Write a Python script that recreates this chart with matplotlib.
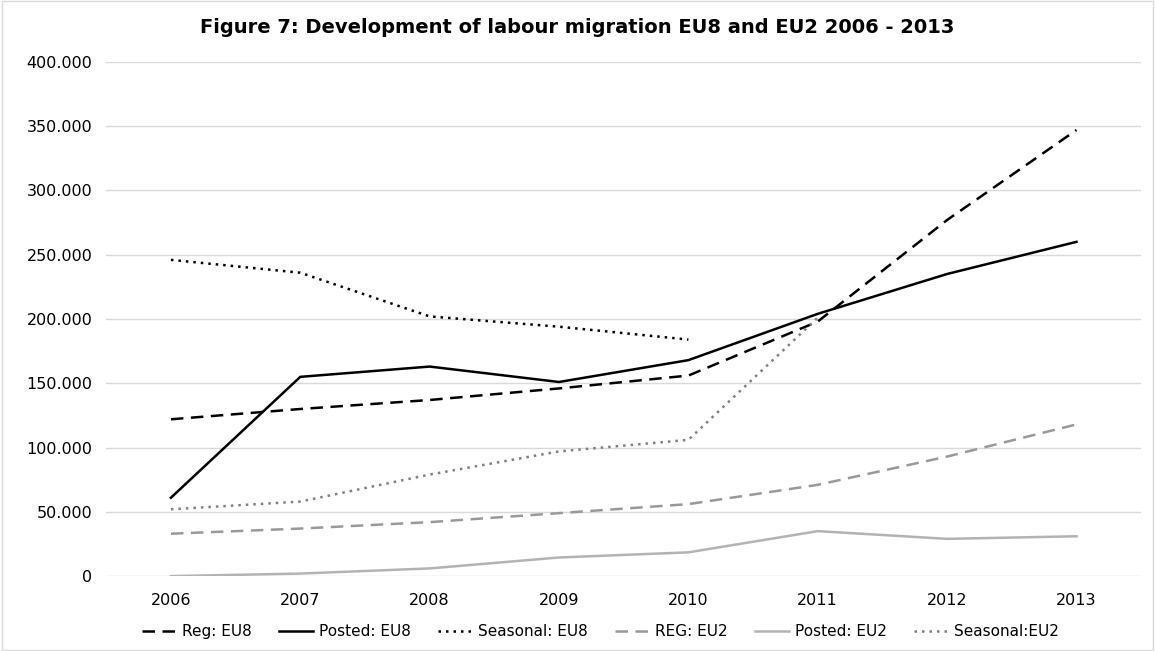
import matplotlib
matplotlib.use('Agg')
import matplotlib.pyplot as plt
import matplotlib.patches as mpatches
import numpy as np

# data
years = ['2006', '2007', '2008', '2009', '2010', '2011', '2012', '2013']
reg_eu8 = [122000, 130000, 137000, 146000, 156000, 198000, 277000, 347000]
posted_eu8 = [61000, 155000, 163000, 151000, 168000, 204000, 235000, 260000]
seasonal_eu8 = [246000, 236000, 202000, 194000, 184000, np.nan, np.nan, np.nan]
reg_eu2 = [33000, 37000, 42000, 49000, 56000, 71000, 93000, 118000]
posted_eu2 = [0, 2000, 6000, 14500, 18500, 35000, 29000, 31000]
seasonal_eu2 = [52000, 58000, 79000, 97000, 106000, 201000, np.nan, np.nan]

plt.rcParams['font.family'] = ['DejaVu Sans']

fig = plt.figure(figsize=(11.55, 6.51), dpi=100)
ax = fig.add_axes([0.092, 0.115, 0.896, 0.79])

x = np.arange(len(years))
lw = 1.8
ax.plot(x, reg_eu8, color='black', lw=lw, dashes=(5, 3), label='Reg: EU8')
ax.plot(x, posted_eu8, color='black', lw=lw, label='Posted: EU8')
ax.plot(x, seasonal_eu8, color='black', lw=lw, dashes=(1, 2), label='Seasonal: EU8')
ax.plot(x, reg_eu2, color='#999999', lw=lw, dashes=(5, 3), label='REG: EU2')
ax.plot(x, posted_eu2, color='#b3b3b3', lw=lw, label='Posted: EU2')
ax.plot(x, seasonal_eu2, color='#808080', lw=lw, dashes=(1, 2), label='Seasonal:EU2')

ax.set_xlim(-0.5, len(years) - 0.5)
ax.set_ylim(0, 400000)
ax.set_xticks(x)
ax.set_xticklabels(years)
ax.set_yticks(np.arange(0, 400001, 50000))
ax.set_yticklabels(['0'] + [f'{v // 1000}.000' for v in range(50000, 400001, 50000)])
ax.tick_params(length=0, labelsize=11.5, colors='#000000', pad=10)
ax.tick_params(axis='x', pad=12)
ax.grid(axis='y', color='#d9d9d9', lw=1)
ax.set_axisbelow(True)
for s in ax.spines.values():
    s.set_visible(False)

fig.text(0.5, 0.957, 'Figure 7: Development of labour migration EU8 and EU2 2006 - 2013',
         ha='center', va='center', fontsize=14, fontweight='bold')

fig.legend(loc='center', bbox_to_anchor=(0.52, 0.03), ncol=6, frameon=False,
           fontsize=11, handlelength=2.2, handletextpad=0.4, columnspacing=1.8)

# light frame around the whole chart
fig.patches.append(mpatches.Rectangle((0.002, 0.002), 0.996, 0.996, transform=fig.transFigure,
                                      fill=False, edgecolor='#d9d9d9', lw=1))

fig.savefig('out.png', dpi=100)
